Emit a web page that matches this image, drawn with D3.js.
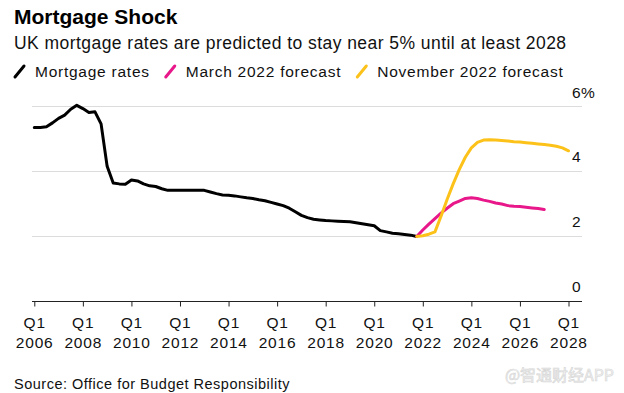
<!DOCTYPE html>
<html>
<head>
<meta charset="utf-8">
<script src="https://cdn.jsdelivr.net/npm/d3@7"></script>
<style>
  html, body { margin: 0; padding: 0; background: #fff; }
  svg { display: block; font-family: "Liberation Sans", Arial, sans-serif; }
</style>
</head>
<body>
<svg id="chart" width="624" height="393"></svg>
<script>
// ---- Data (quarterly) ----
const seriesNames = ["Mortgage rates", "March 2022 forecast", "November 2022 forecast"];
const mortgageStart = 2006.0;   // Q1 2006
const mortgageRates = [
  5.34, 5.34, 5.36, 5.48,
  5.62, 5.72, 5.90, 6.02,
  5.92, 5.80, 5.82, 5.45,
  4.14, 3.63, 3.60, 3.59,
  3.72, 3.69, 3.60, 3.54,
  3.52, 3.45, 3.40, 3.40,
  3.40, 3.40, 3.40, 3.40,
  3.40, 3.35, 3.30, 3.26,
  3.25, 3.23, 3.20, 3.17,
  3.15, 3.11, 3.08, 3.03,
  2.98, 2.93, 2.85, 2.74,
  2.63, 2.56, 2.51, 2.49,
  2.47, 2.46, 2.45, 2.44,
  2.43, 2.40, 2.37, 2.34,
  2.31, 2.16, 2.12, 2.08,
  2.06, 2.04, 2.02, 1.98
];
const marchStart = 2021.75;     // Q4 2021
const marchForecast = [
  1.98,
  2.18, 2.36, 2.53, 2.70,
  2.85, 2.99, 3.07, 3.15,
  3.17, 3.15, 3.10, 3.06,
  3.01, 2.98, 2.93, 2.91,
  2.90, 2.88, 2.86, 2.84,
  2.81
];
const novStart = 2021.75;       // Q4 2021
const novForecast = [
  1.98,
  2.00, 2.05, 2.12, 2.60,
  3.12, 3.60, 4.04, 4.42,
  4.71, 4.88, 4.95, 4.96,
  4.95, 4.94, 4.92, 4.90,
  4.89, 4.87, 4.85, 4.83,
  4.81, 4.79, 4.76, 4.71,
  4.62
];
const xTickYears = [2006, 2008, 2010, 2012, 2014, 2016, 2018, 2020, 2022, 2024, 2026, 2028];
const yTickValues = [0, 2, 4, 6];
const colors = ["#000000", "#e8178a", "#fcc21a"];

// ---- Build point lists ----
const toPoints = (start, vals) => vals.map((v, i) => ({ t: start + i * 0.25, v }));
const series = [
  toPoints(mortgageStart, mortgageRates),
  toPoints(marchStart, marchForecast),
  toPoints(novStart, novForecast)
];

const svg = d3.select("#chart");
const x = d3.scaleLinear().domain([2006, 2028]).range([34.3, 568.5]);
const y = d3.scaleLinear().domain([0, 6]).range([300.7, 106]);
const gridLeft = 32, gridRight = 582;

// ---- Titles ----
svg.append("text").attr("x", 14).attr("y", 24)
  .attr("font-size", 21).attr("font-weight", "bold").attr("fill", "#000")
  .text("Mortgage Shock");
svg.append("text").attr("x", 14).attr("y", 48.5)
  .attr("font-size", 17.5).attr("letter-spacing", 0.45).attr("fill", "#111")
  .text("UK mortgage rates are predicted to stay near 5% until at least 2028");

// ---- Legend ----
const legend = svg.append("g");
let lx = 14;
seriesNames.forEach((name, i) => {
  legend.append("line")
    .attr("x1", lx + 1).attr("y1", 77).attr("x2", lx + 10).attr("y2", 66)
    .attr("stroke", colors[i]).attr("stroke-width", 3).attr("stroke-linecap", "round");
  const t = legend.append("text").attr("x", lx + 21).attr("y", 77)
    .attr("font-size", 15.5).attr("letter-spacing", 0.75).attr("fill", "#111").text(name);
  lx = lx + 21 + t.node().getComputedTextLength() + 15;
});

// ---- Grid ----
svg.append("g").selectAll("line").data(yTickValues.filter(d => d > 0)).join("line")
  .attr("x1", gridLeft).attr("x2", gridRight)
  .attr("y1", d => Math.round(y(d)) + 0.5).attr("y2", d => Math.round(y(d)) + 0.5)
  .attr("stroke", "#dcdcdc").attr("stroke-width", 1);

// ---- Y labels (right, above gridlines) ----
svg.append("g").selectAll("text").data(yTickValues).join("text")
  .attr("x", 572).attr("y", d => y(d) - 8.5)
  .attr("font-size", 15.5).attr("letter-spacing", 0.4).attr("fill", "#111")
  .text(d => d === 6 ? d + "%" : d);

// ---- X axis ----
const xAxis = d3.axisBottom(x).tickValues(xTickYears).tickSize(5).tickFormat(() => "");
const ax = svg.append("g").attr("transform", `translate(0,${Math.round(y(0)) + 0.5})`).call(xAxis);
ax.select(".domain").remove();
ax.selectAll(".tick line").attr("stroke", "#222");
svg.append("line").attr("x1", gridLeft).attr("x2", gridRight)
  .attr("y1", Math.round(y(0)) + 0.5).attr("y2", Math.round(y(0)) + 0.5)
  .attr("stroke", "#222").attr("stroke-width", 1);
const xl = svg.append("g").selectAll("text").data(xTickYears).join("text")
  .attr("text-anchor", "middle").attr("font-size", 15.5).attr("letter-spacing", 0.8).attr("fill", "#111");
xl.append("tspan").attr("x", d => x(d) + 0.4).attr("y", 328).text("Q1");
xl.append("tspan").attr("x", d => x(d) + 0.4).attr("y", 347.5).text(d => d);

// ---- Lines ----
const line = d3.line().x(d => x(d.t)).y(d => y(d.v));
svg.append("g").selectAll("path").data(series).join("path")
  .attr("d", line).attr("fill", "none")
  .attr("stroke", (d, i) => colors[i]).attr("stroke-width", 3)
  .attr("stroke-linejoin", "round").attr("stroke-linecap", "round");

// ---- Source ----
svg.append("text").attr("x", 14).attr("y", 388.5)
  .attr("font-size", 14.5).attr("letter-spacing", 0.5).attr("fill", "#111")
  .text("Source: Office for Budget Responsibility");

// ---- Watermark ----
svg.append("text").attr("x", 614).attr("y", 381).attr("text-anchor", "end")
  .attr("font-size", 16).attr("fill", "#f2f2f2").attr("stroke", "#d6d6d6").attr("stroke-width", 0.6)
  .attr("font-family", "'Noto Sans CJK SC', sans-serif")
  .text("@智通财经APP");
</script>
</body>
</html>
